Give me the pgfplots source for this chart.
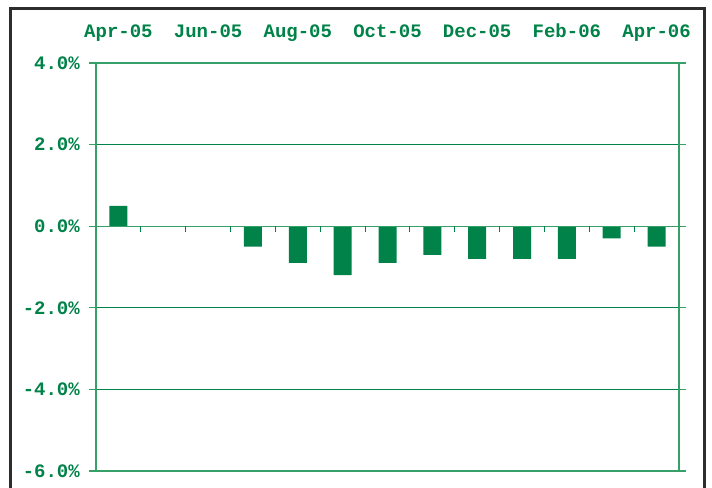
\documentclass[border=0pt]{standalone}
\usepackage{fontspec}
\setmonofont{Liberation Mono}
\usepackage{pgfplots}
\pgfplotsset{compat=1.18}
\definecolor{grn}{RGB}{0,130,72}
\definecolor{grnl}{RGB}{55,160,105}
\definecolor{framec}{RGB}{45,45,45}
\begin{document}
\begin{tikzpicture}
\useasboundingbox (0,0) rectangle (712bp,488bp);
\clip (0,0) rectangle (712bp,488bp);
\draw[framec, line width=2.7bp] (10.7bp,-20bp) rectangle (704.7bp,479.3bp);
\begin{axis}[at={(96bp,17bp)}, anchor=south west, scale only axis,
  width=583bp, height=408bp,
  xmin=-0.5, xmax=12.5, ymin=-6, ymax=4,
  axis line style={grnl, line width=1.2bp},
  ytick={-6,-4,...,4}, yticklabels={-6.0\%,-4.0\%,-2.0\%,0.0\%,2.0\%,4.0\%},
  xtick={0,2,...,12}, xticklabels={Apr-05,Jun-05,Aug-05,Oct-05,Dec-05,Feb-06,Apr-06},
  xticklabel pos=upper,
  x tick style={draw=none},
  y tick style={grnl, line width=1.2bp},
  tick align=outside, major tick length=7bp,
  ymajorgrids, grid style={grn, line width=1.2bp},
  ticklabel style={font=\fontsize{19bp}{22bp}\ttfamily\bfseries, text=grn},
  yticklabel style={anchor=east, inner sep=0pt, xshift=-9bp},
  xticklabel style={anchor=base, inner sep=0pt, yshift=18bp},
]
\addplot[ybar, bar width=18bp, fill=grn, draw=none] coordinates {
(0,0.5) (1,0) (2,0) (3,-0.5) (4,-0.9) (5,-1.2) (6,-0.9) (7,-0.7) (8,-0.8) (9,-0.8) (10,-0.8) (11,-0.3) (12,-0.5)};
\draw[grnl, line width=1.2bp] (axis cs:-0.5,0) -- (axis cs:12.5,0);
\pgfplotsinvokeforeach{0.5,1.5,...,11.5}{\draw[grn, line width=0.9bp] (axis cs:#1,0) -- ([yshift=-6bp]axis cs:#1,0);}
\end{axis}
\end{tikzpicture}
\end{document}
